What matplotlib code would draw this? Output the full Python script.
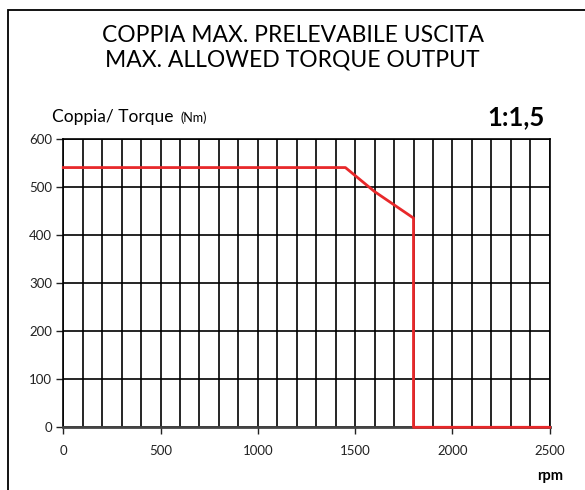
import matplotlib
matplotlib.use('Agg')
import matplotlib.pyplot as plt
from matplotlib.patches import Rectangle

# curve data (rpm, Nm)
rpm = [0, 1450, 1600, 1800, 1800, 2500]
torque = [540, 540, 490, 435, 0, 0]

x_ticks = [0, 500, 1000, 1500, 2000, 2500]
y_ticks = [0, 100, 200, 300, 400, 500, 600]
x_grid = list(range(0, 2501, 100))

title_it = 'COPPIA MAX. PRELEVABILE USCITA'
title_en = 'MAX. ALLOWED TORQUE OUTPUT'
ratio = '1:1,5'

plt.rcParams['font.family'] = ['Lato', 'DejaVu Sans']

fig = plt.figure(figsize=(5.85, 4.9), dpi=100)

# outer frame (runs off the right and bottom edges)
fig.patches.append(Rectangle((8 / 585, -0.05), 1.1, (490 - 10) / 490 + 0.05,
                             transform=fig.transFigure, fill=False,
                             edgecolor='black', linewidth=1.3))

ax = fig.add_axes([63.3 / 585, 1 - 427.3 / 490, (549.7 - 63.3) / 585, (427.3 - 138.7) / 490])

ax.plot(rpm, torque, color='#e8282a', linewidth=2, zorder=5, clip_on=False)

for xg in x_grid:
    ax.axvline(xg, color='black', linewidth=1.2, zorder=1)
for yg in y_ticks:
    ax.axhline(yg, color='black', linewidth=1.2, zorder=1)

ax.set_xlim(0, 2500)
ax.set_ylim(0, 600)
ax.set_xticks(x_ticks)
ax.set_yticks(y_ticks)
ax.tick_params(axis='both', which='major', labelsize=9.5, colors='#222222',
               length=5, width=1, direction='out')
ax.tick_params(axis='x', which='major', pad=8)
ax.tick_params(axis='y', which='major', pad=3)
for s in ['top', 'left', 'right']:
    ax.spines[s].set_color('black')
    ax.spines[s].set_linewidth(1.2)
ax.spines['bottom'].set_color('#444444')
ax.spines['bottom'].set_linewidth(2)
ax.spines['bottom'].set_zorder(4)

fig.text(0.5, 1 - 35 / 490, title_it, ha='center', va='center', fontsize=16.5)
fig.text(0.5, 1 - 60 / 490, title_en, ha='center', va='center', fontsize=16.5)

lbl = fig.text(52 / 585, 1 - 117 / 490, 'Coppia/ Torque ', ha='left', va='center', fontsize=12.5)
fig.canvas.draw()
bb = lbl.get_window_extent()
fig.text(bb.x1 / 585 + 0.004, 1 - 118 / 490, '(Nm)', ha='left', va='center', fontsize=9)
fig.text(545 / 585, 1 - 117 / 490, ratio, ha='right', va='center', fontsize=18.5, fontweight='bold')
fig.text(563 / 585, 1 - 476 / 490, 'rpm', ha='right', va='center', fontsize=10.5, fontweight='bold')

fig.savefig('out.png', dpi=100)
